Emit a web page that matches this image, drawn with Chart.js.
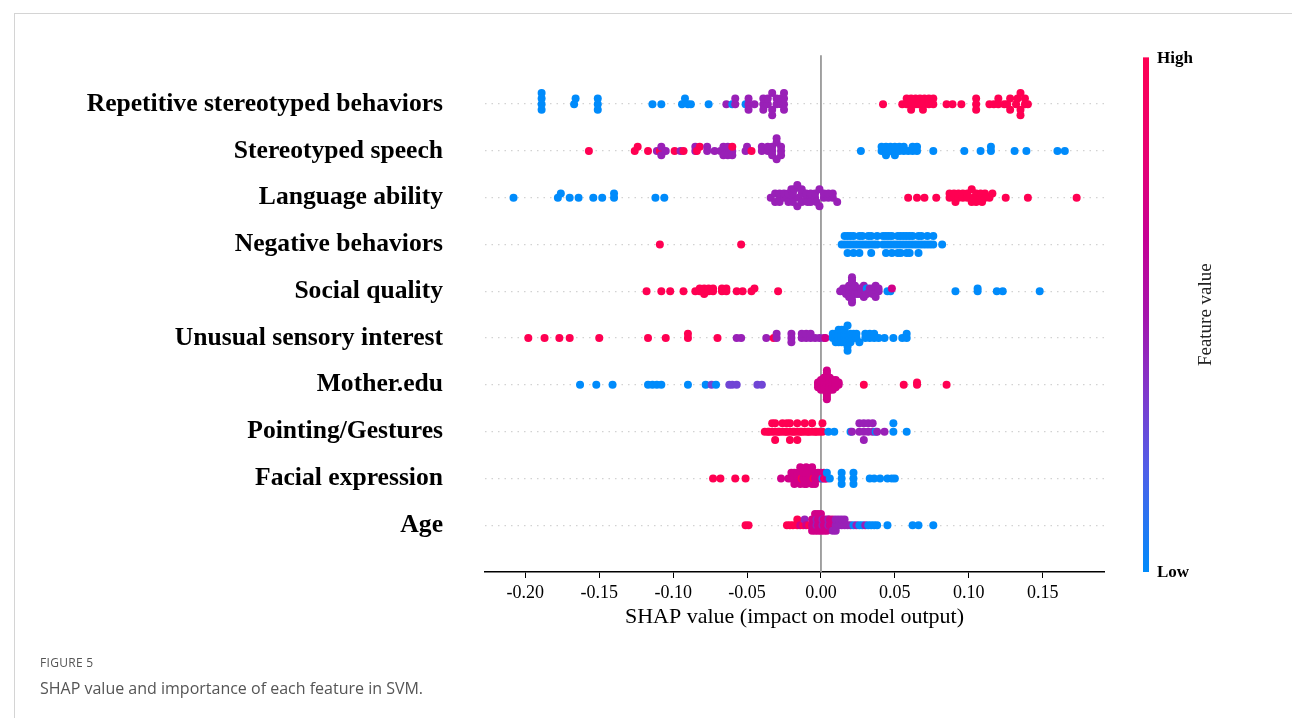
<!DOCTYPE html>
<html>
<head>
<meta charset="utf-8">
<script src="https://cdn.jsdelivr.net/npm/chart.js@4.4.1/dist/chart.umd.min.js"></script>
<style>
  html, body { margin: 0; padding: 0; background: #fff; }
  body { width: 1292px; height: 718px; position: relative; overflow: hidden; }
  .frame { position: absolute; left: 14px; top: 13px; right: 0; bottom: 0;
           border-top: 1px solid #d4d4d4; border-left: 1px solid #d4d4d4; }
  #chart { position: absolute; left: 0; top: 0; }
  .fig-no { position: absolute; left: 40px; top: 654px; font: 12px "Open Sans", sans-serif;
            color: #555; letter-spacing: 0.3px; }
  .fig-cap { position: absolute; left: 40px; top: 677px; font: 16px "Open Sans", sans-serif; color: #555; }
</style>
</head>
<body>
<div class="frame"></div>
<canvas id="chart" width="1292" height="718"></canvas>
<div class="fig-no">FIGURE 5</div>
<div class="fig-cap">SHAP value and importance of each feature in SVM.</div>
<script>
// features, top to bottom
const features = ['Repetitive stereotyped behaviors', 'Stereotyped speech', 'Language ability',
  'Negative behaviors', 'Social quality', 'Unusual sensory interest', 'Mother.edu',
  'Pointing/Gestures', 'Facial expression', 'Age'];

const xTicks = [-0.20, -0.15, -0.10, -0.05, 0.00, 0.05, 0.10, 0.15];

// [shap value, feature value (0 = low, 1 = high)]
const repetitive = [
  [-0.189,0],[-0.189,0],[-0.189,0],[-0.189,0],[-0.167,0],[-0.166,0],[-0.151,0],[-0.151,0],[-0.151,0],
  [-0.114,0],[-0.108,0],[-0.094,0],[-0.092,0],[-0.090,0],[-0.088,0],[-0.076,0],
  [-0.064,0.45],[-0.060,0],[-0.058,0.45],[-0.058,0.45],[-0.051,0],[-0.049,0.45],[-0.049,0.45],[-0.049,0.45],
  [-0.045,0.45],[-0.039,0.45],[-0.039,0.45],[-0.039,0.45],[-0.036,0.45],[-0.036,0.45],[-0.033,0.45],
  [-0.033,0.45],[-0.033,0.45],[-0.030,0.45],[-0.030,0.45],[-0.027,0.45],[-0.027,0.45],[-0.025,0.45],
  [-0.025,0.45],[-0.025,0.45],[-0.025,0.45],
  [0.042,1],[0.055,1],[0.058,1],[0.058,1],[0.061,1],[0.061,1],[0.061,1],[0.064,1],[0.064,1],[0.066,1],
  [0.067,1],[0.069,1],[0.070,1],[0.070,1],[0.073,1],[0.073,1],[0.076,1],[0.076,1],
  [0.085,1],[0.089,1],[0.095,1],[0.105,1],[0.105,1],[0.105,1],[0.114,1],[0.117,1],[0.120,1],[0.120,1],
  [0.124,1],[0.126,1],[0.128,1],[0.128,1],[0.132,1],[0.133,1],[0.135,1],[0.135,1],[0.135,1],
  [0.138,1],[0.138,1],[0.140,1]
];

const speech = [
  [-0.157,1],[-0.126,1],[-0.124,1],[-0.117,1],[-0.111,0.45],[-0.109,1],[-0.108,0.45],[-0.108,0.45],
  [-0.105,0.45],[-0.099,1],[-0.095,0.45],[-0.093,1],[-0.085,0.45],[-0.085,0.45],[-0.084,1],[-0.082,1],
  [-0.077,0.45],[-0.077,0.45],[-0.072,0.45],[-0.068,0.45],[-0.066,0.45],[-0.066,0.45],[-0.063,0.45],
  [-0.063,0.45],[-0.063,0.45],[-0.060,0.45],[-0.060,1],[-0.060,0.45],[-0.051,0.45],[-0.050,0.45],
  [-0.047,1],[-0.040,0.45],[-0.040,0.45],[-0.036,0.45],[-0.036,0.45],[-0.033,0.45],[-0.033,0.45],
  [-0.033,0.45],[-0.030,0.45],[-0.030,0.45],[-0.030,0.45],[-0.027,0.45],[-0.027,0.45],[-0.027,0.45],
  [0.027,0],[0.041,0],[0.041,0],[0.044,0],[0.044,0],[0.044,0],[0.047,0],[0.047,0],[0.050,0],[0.050,0],
  [0.050,0],[0.053,0],[0.053,0],[0.056,0],[0.056,0],[0.059,0],[0.062,0],[0.062,0],[0.065,0],[0.065,0],
  [0.076,0],[0.097,0],[0.108,0],[0.115,0],[0.115,0],[0.131,0],[0.139,0],[0.160,0],[0.165,0]
];

const language = [
  [-0.208,0],[-0.178,0],[-0.176,0],[-0.170,0],[-0.164,0],[-0.154,0],[-0.148,0],[-0.140,0],[-0.140,0],
  [-0.112,0],[-0.106,0],
  [-0.034,0.45],[-0.031,0.45],[-0.031,0.45],[-0.028,0.45],[-0.028,0.45],[-0.028,0.45],[-0.025,0.45],
  [-0.025,0.45],[-0.023,0.45],[-0.022,0.45],[-0.022,0.45],[-0.020,0.45],[-0.019,0.45],[-0.019,0.45],
  [-0.019,0.45],[-0.018,0.45],[-0.016,0.45],[-0.016,0.45],[-0.015,0.45],[-0.013,0.45],[-0.013,0.45],
  [-0.013,0.45],[-0.010,0.45],[-0.010,0.45],[-0.009,0.45],[-0.007,0.45],[-0.007,0.45],[-0.007,0.45],
  [-0.004,0.45],[-0.004,0.45],[-0.003,0.45],[-0.001,0.45],[-0.001,0.45],[0.002,0.45],[0.002,0.45],
  [0.005,0.45],[0.005,0.45],[0.008,0.45],[0.008,0.45],[0.011,0.45],
  [0.059,1],[0.065,1],[0.070,1],[0.078,1],[0.087,1],[0.087,1],[0.090,1],[0.090,1],[0.091,1],[0.093,1],
  [0.093,1],[0.096,1],[0.096,1],[0.099,1],[0.099,1],[0.102,1],[0.102,1],[0.103,1],[0.105,1],[0.105,1],
  [0.108,1],[0.108,1],[0.109,1],[0.111,1],[0.111,1],[0.114,1],[0.116,1],[0.125,1],[0.140,1],[0.173,1]
];

const negative = [
  [-0.109,1],[-0.054,1],
  [0.014,0],[0.016,0],[0.016,0],[0.018,0],[0.018,0],[0.018,0],[0.020,0],[0.020,0],[0.022,0],[0.022,0],
  [0.022,0],[0.024,0],[0.026,0],[0.026,0],[0.026,0],[0.028,0],[0.028,0],[0.030,0],[0.032,0],[0.032,0],
  [0.034,0],[0.034,0],[0.034,0],[0.036,0],[0.038,0],[0.038,0],
  [0.042,0],[0.042,0],[0.044,0],[0.044,0],[0.044,0],[0.046,0],[0.046,0],[0.048,0],[0.048,0],[0.048,0],
  [0.050,0],[0.052,0],[0.052,0],[0.052,0],[0.054,0],[0.054,0],[0.054,0],[0.056,0],[0.056,0],[0.058,0],
  [0.058,0],[0.058,0],[0.060,0],[0.060,0],[0.060,0],[0.062,0],[0.062,0],[0.064,0],[0.066,0],[0.066,0],
  [0.066,0],[0.068,0],[0.068,0],[0.070,0],[0.072,0],[0.072,0],[0.074,0],[0.076,0],[0.076,0],[0.082,0]
];

const social = [
  [-0.118,1],[-0.108,1],[-0.102,1],[-0.093,1],[-0.085,1],[-0.082,1],[-0.082,1],[-0.079,1],[-0.079,1],
  [-0.079,1],[-0.076,1],[-0.076,1],[-0.073,1],[-0.073,1],[-0.067,1],[-0.067,1],[-0.064,1],[-0.064,1],
  [-0.057,1],[-0.053,1],[-0.047,1],[-0.045,1],[-0.029,1],
  [0.013,0.45],[0.015,0.45],[0.015,0.45],[0.017,0.45],[0.017,0.45],[0.017,0.45],[0.019,0.45],[0.019,0.45],
  [0.019,0.45],[0.019,0.45],[0.019,0.45],[0.021,0.45],[0.021,0.45],[0.021,0.45],[0.021,0.45],[0.021,0.45],
  [0.023,0.45],[0.023,0.45],[0.023,0.45],[0.023,0.45],[0.025,0.45],[0.025,0.45],[0.025,0.45],[0.027,0.45],
  [0.027,0.45],[0.027,0.45],[0.029,0.45],[0.029,0.45],[0.031,0.45],[0.031,0],[0.031,0.45],[0.033,0.45],
  [0.033,0.45],[0.035,0.45],[0.035,0.45],[0.035,0.45],[0.037,0.45],[0.037,0.45],[0.039,0.45],[0.039,0.45],
  [0.045,0],[0.047,0],[0.048,0.7],[0.091,0],[0.106,0],[0.106,0],[0.119,0],[0.123,0],[0.148,0]
];

const sensory = [
  [-0.198,1],[-0.187,1],[-0.177,1],[-0.170,1],[-0.150,1],[-0.117,1],[-0.105,1],[-0.090,1],[-0.090,1],
  [-0.070,1],[-0.057,0.45],[-0.054,0.45],[-0.037,0.45],[-0.032,1],[-0.030,0.45],[-0.030,0.45],
  [-0.020,0.45],[-0.020,0.45],[-0.020,0.45],[-0.013,0.45],[-0.013,0.45],[-0.010,0.45],[-0.010,0.45],
  [-0.007,0.45],[-0.007,0.45],[-0.004,0.45],[-0.001,0.45],[0.002,0.45],[0.003,0.7],
  [0.008,0],[0.008,0],[0.010,0],[0.010,0],[0.010,0],[0.012,0],[0.012,0],[0.012,0],[0.012,0],[0.014,0],
  [0.014,0],[0.014,0],[0.014,0],[0.016,0],[0.016,0],[0.016,0],[0.016,0],[0.018,0],[0.018,0],[0.018,0],
  [0.020,0],[0.020,0],[0.020,0],[0.022,0],[0.022,0],[0.024,0],[0.024,0],[0.026,0],[0.030,0],[0.030,0],
  [0.033,0],[0.033,0],[0.036,0],[0.036,0],[0.039,0],[0.043,0],[0.049,0],[0.055,0],[0.058,0],[0.058,0]
];

const motherEdu = [
  [-0.163,0],[-0.152,0],[-0.141,0],[-0.117,0],[-0.114,0],[-0.111,0],[-0.108,0],[-0.090,0],[-0.078,0],
  [-0.074,0.3],[-0.071,0],[-0.062,0.3],[-0.060,0.3],[-0.057,0.3],[-0.043,0.3],[-0.040,0.3],
  [-0.002,0.7],[-0.002,0.7],[-0.002,0.7],[0.000,0.7],[0.000,0.7],[0.000,0.7],[0.000,0.7],[0.000,0.7],
  [0.002,0.7],[0.002,0.7],[0.002,0.7],[0.002,0.7],[0.002,0.7],[0.002,0.7],[0.004,0.7],[0.004,0.7],
  [0.004,0.7],[0.004,0.7],[0.004,0.7],[0.004,0.7],[0.004,0.7],[0.006,0.7],[0.006,0.7],[0.006,0.7],
  [0.006,0.7],[0.006,0.7],[0.006,0.7],[0.008,0.7],[0.008,0.7],[0.008,0.7],[0.008,0.7],[0.008,0.7],
  [0.010,0.7],[0.010,0.7],[0.010,0.7],[0.010,0.7],[0.012,0.7],[0.012,0.7],
  [0.029,1],[0.056,1],[0.065,1],[0.065,1],[0.085,1]
];

const pointing = [
  [-0.038,1],[-0.036,1],[-0.035,1],[-0.033,1],[-0.033,1],[-0.031,1],[-0.031,1],[-0.031,1],[-0.029,1],
  [-0.028,1],[-0.026,1],[-0.026,1],[-0.024,1],[-0.023,1],[-0.023,1],[-0.021,1],[-0.021,1],[-0.021,1],
  [-0.019,1],[-0.018,1],[-0.016,1],[-0.016,1],[-0.016,1],[-0.014,1],[-0.013,1],[-0.011,1],[-0.011,1],
  [-0.009,1],[-0.008,1],[-0.006,1],[-0.006,1],[-0.004,1],[-0.003,1],[-0.001,1],[0.001,1],[0.001,1],
  [0.005,0],[0.009,0],[0.020,0],[0.021,0.45],[0.026,0.45],[0.026,0.45],[0.029,0.45],[0.029,0.45],
  [0.029,0.45],[0.032,0.45],[0.032,0.45],[0.035,0.45],[0.035,0.45],[0.037,0],[0.038,0.45],[0.043,0.45],
  [0.049,0],[0.049,0],[0.058,0]
];

const facial = [
  [-0.073,1],[-0.068,1],[-0.058,1],[-0.051,1],
  [-0.027,0.7],[-0.022,0.7],[-0.020,0.7],[-0.020,0.7],[-0.018,0.7],[-0.018,0.7],[-0.018,0.7],[-0.016,0.7],
  [-0.016,0.7],[-0.015,0.7],[-0.014,0.7],[-0.014,0.7],[-0.014,0.7],[-0.014,0.7],[-0.013,1],[-0.012,0.7],
  [-0.012,0.7],[-0.011,0.7],[-0.010,0.7],[-0.010,0.7],[-0.010,0.7],[-0.010,0.7],[-0.008,0.7],[-0.008,0.7],
  [-0.007,0.7],[-0.006,0.7],[-0.006,0.7],[-0.006,0.7],[-0.005,1],[-0.004,0.7],[-0.004,0.7],[-0.004,0.7],
  [-0.002,0.7],[-0.002,0.7],[0.000,0.7],[0.000,0.7],[0.001,0],[0.002,0.7],[0.002,0.7],[0.003,1],
  [0.004,0.7],[0.004,0],[0.006,0],
  [0.014,0],[0.014,0],[0.014,0],[0.022,0],[0.022,0],[0.022,0],[0.033,0],[0.036,0],[0.040,0],[0.045,0],
  [0.048,0],[0.050,0]
];

const age = [
  [-0.051,1],[-0.049,1],[-0.023,1],[-0.021,1],[-0.019,1],[-0.016,1],[-0.016,1],[-0.014,0.7],[-0.012,1],
  [-0.011,0.45],[-0.010,0.7],[-0.008,1],[-0.006,0.7],[-0.006,0.7],[-0.006,0.7],[-0.004,0.7],[-0.004,0.7],
  [-0.004,0.7],[-0.004,0.7],[-0.003,0.45],[-0.003,0.45],[-0.002,0.7],[-0.002,0.7],[-0.002,0.7],[-0.002,0.7],
  [0.000,0.7],[0.000,0.7],[0.000,0.7],[0.000,0.7],[0.001,0.45],[0.001,0.45],[0.002,0.7],[0.002,0.7],
  [0.002,0.7],[0.004,0.7],[0.004,0.7],[0.004,0.7],[0.005,0.45],[0.005,0.45],[0.006,0.7],[0.006,0.7],
  [0.008,0.7],[0.008,0.7],[0.008,0.45],[0.010,0.45],[0.010,0.45],[0.010,0.45],[0.012,0.45],[0.012,0.45],
  [0.014,0.45],[0.014,0.45],[0.016,0.45],[0.016,0.45],[0.018,0.45],[0.020,0.45],[0.022,0],[0.024,0.45],
  [0.026,0],[0.028,0],[0.030,0.45],[0.032,0],[0.034,0],[0.036,0],[0.038,0],[0.045,0],[0.062,0],
  [0.066,0],[0.076,0]
];

const rows = [repetitive, speech, language, negative, social, sensory, motherEdu, pointing, facial, age];

// shap red_blue colormap stops
const cmap = [
  [0.00, [0, 139, 251]],
  [0.20, [80, 95, 232]],
  [0.35, [128, 56, 204]],
  [0.50, [165, 20, 172]],
  [0.65, [198, 0, 148]],
  [0.80, [230, 0, 116]],
  [1.00, [255, 0, 82]]
];

function shapColor(v) {
  for (let i = 1; i < cmap.length; i++) {
    if (v <= cmap[i][0]) {
      const t = (v - cmap[i - 1][0]) / (cmap[i][0] - cmap[i - 1][0]);
      const a = cmap[i - 1][1], b = cmap[i][1];
      return 'rgb(' + a.map((c, k) => Math.round(c + (b[k] - c) * t)).join(',') + ')';
    }
  }
  return 'rgb(255,0,82)';
}

// beeswarm layout like shap.summary_plot
function swarm(xs) {
  const n = xs.length, nbins = 100;
  const mn = Math.min(...xs), mx = Math.max(...xs);
  const quant = xs.map(x => Math.round(nbins * (x - mn) / (mx - mn + 1e-8)));
  const inds = xs.map((_, i) => i).sort((a, b) => quant[a] - quant[b] || a - b);
  const ys = new Array(n).fill(0);
  let layer = 0, last = -1;
  inds.forEach(i => {
    if (quant[i] !== last) layer = 0;
    ys[i] = Math.ceil(layer / 2) * ((layer % 2) * 2 - 1);
    layer++;
    last = quant[i];
  });
  const m = Math.max(...ys.map(y => y + 1));
  return ys.map(y => y * 0.9 * (0.4 / m));
}

const datasets = rows.map((pts, i) => {
  const pos = features.length - 1 - i;
  const off = swarm(pts.map(p => p[0]));
  return {
    label: features[i],
    data: pts.map((p, k) => ({ x: p[0], y: pos + off[k] })),
    pointBackgroundColor: pts.map(p => shapColor(p[1])),
    pointBorderWidth: 0,
    pointRadius: 4,
    pointHoverRadius: 4,
    showLine: false
  };
});

const serif = '"Liberation Serif", "Times New Roman", serif';

const extras = {
  id: 'extras',
  beforeDatasetsDraw(chart) {
    const { ctx, chartArea, scales } = chart;
    const x0 = scales.x.getPixelForValue(0);
    ctx.save();
    ctx.strokeStyle = '#999999';
    ctx.lineWidth = 1.8;
    ctx.beginPath();
    ctx.moveTo(x0, chartArea.top - 2);
    ctx.lineTo(x0, chartArea.bottom);
    ctx.stroke();
    ctx.restore();
  },
  afterDraw(chart) {
    const { ctx, chartArea } = chart;
    ctx.save();
    // x axis title
    ctx.fillStyle = '#000';
    ctx.font = '22px ' + serif;
    ctx.textAlign = 'center';
    ctx.textBaseline = 'middle';
    ctx.fillText('SHAP value (impact on model output)', (chartArea.left + chartArea.right) / 2, 617);
    // colour bar
    const bx = 1143, bw = 6, top = chartArea.top, bot = chartArea.bottom;
    const g = ctx.createLinearGradient(0, bot, 0, top);
    cmap.forEach(s => g.addColorStop(s[0], 'rgb(' + s[1].join(',') + ')'));
    ctx.fillStyle = g;
    ctx.fillRect(bx, top, bw, bot - top);
    ctx.fillStyle = '#000';
    ctx.font = 'bold 17px ' + serif;
    ctx.textAlign = 'left';
    ctx.fillText('High', bx + 14, top + 1);
    ctx.fillText('Low', bx + 14, bot + 1);
    ctx.font = '19px ' + serif;
    ctx.fillStyle = '#222';
    ctx.translate(1206, (top + bot) / 2);
    ctx.rotate(-Math.PI / 2);
    ctx.textAlign = 'center';
    ctx.fillText('Feature value', 0, 0);
    ctx.restore();
  }
};

new Chart(document.getElementById('chart'), {
  type: 'scatter',
  data: { datasets: datasets },
  options: {
    responsive: false,
    animation: false,
    events: [],
    layout: { padding: { top: 54, right: 188, left: 0, bottom: 0 } },
    plugins: { legend: { display: false }, tooltip: { enabled: false } },
    scales: {
      x: {
        type: 'linear',
        min: -0.2273,
        max: 0.1915,
        afterBuildTicks(scale) { scale.ticks = xTicks.map(v => ({ value: v })); },
        afterFit(scale) { scale.height = 718 - 572; },
        ticks: {
          includeBounds: false,
          color: '#000',
          font: { family: serif, size: 18 },
          padding: 4,
          maxRotation: 0,
          callback: v => Math.abs(v) < 1e-9 ? '0.00' : v.toFixed(2)
        },
        grid: { drawOnChartArea: false, drawTicks: true, tickLength: 6, color: '#000', lineWidth: 1 },
        border: { display: true, color: '#000', width: 1.5 }
      },
      y: {
        type: 'linear',
        min: -1,
        max: 10,
        afterBuildTicks(scale) {
          scale.ticks = features.map((_, i) => ({ value: i }));
        },
        afterFit(scale) { scale.width = 485; },
        ticks: {
          autoSkip: false,
          color: '#000',
          padding: 42,
          font: { family: serif, size: 25.6, weight: 'bold' },
          callback: v => features[features.length - 1 - v]
        },
        grid: { drawTicks: false, color: '#d2d2d2', lineWidth: 1.3 },
        border: { display: false, dash: [1.5, 5] }
      }
    }
  },
  plugins: [extras]
});
</script>
</body>
</html>
